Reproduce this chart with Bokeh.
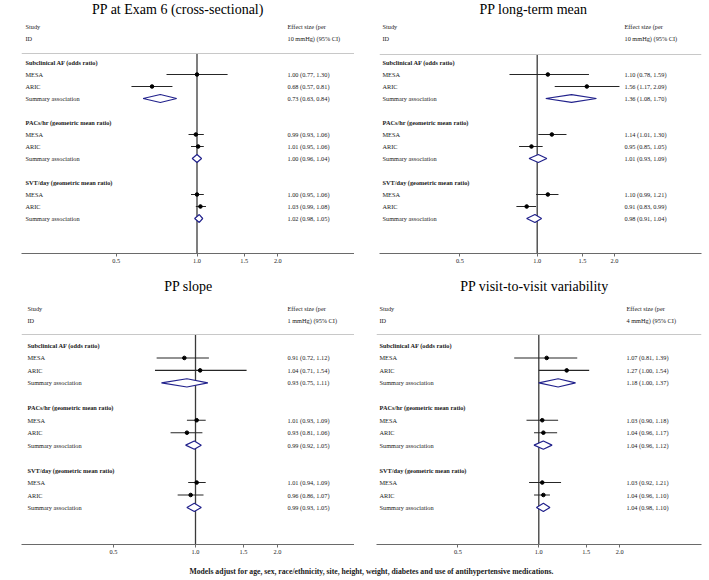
import math
from bokeh.plotting import figure
from bokeh.models import Range1d, FixedTicker, PrintfTickFormatter, Span
from bokeh.layouts import column, row
from bokeh.core.properties import value
from bokeh.embed import file_html
from bokeh.resources import INLINE

# ---------------- data ----------------
groups = ["Subclinical AF (odds ratio)", "PACs/hr (geometric mean ratio)", "SVT/day (geometric mean ratio)"]
studies = ["MESA", "ARIC", "Summary association"]
ticks = [0.5, 1.0, 1.5, 2.0]
titles = ["PP at Exam 6 (cross-sectional)", "PP long-term mean", "PP slope", "PP visit-to-visit variability"]
units = ["10 mmHg) (95% CI)", "10 mmHg) (95% CI)", "1 mmHg) (95% CI)", "4 mmHg) (95% CI)"]
footnote = "Models adjust for age, sex, race/ethnicity, site, height, weight, diabetes and use of antihypertensive medications."

# order: AF (MESA, ARIC, Summary), PACs (...), SVT (...)
exam6_est = [1.00, 0.68, 0.73, 0.99, 1.01, 1.00, 1.00, 1.03, 1.02]
exam6_lo = [0.77, 0.57, 0.63, 0.93, 0.95, 0.96, 0.95, 0.99, 0.98]
exam6_hi = [1.30, 0.81, 0.84, 1.06, 1.06, 1.04, 1.06, 1.08, 1.05]

mean_est = [1.10, 1.56, 1.36, 1.14, 0.95, 1.01, 1.10, 0.91, 0.98]
mean_lo = [0.78, 1.17, 1.08, 1.01, 0.85, 0.93, 0.99, 0.83, 0.91]
mean_hi = [1.59, 2.09, 1.70, 1.30, 1.05, 1.09, 1.21, 0.99, 1.04]

slope_est = [0.91, 1.04, 0.93, 1.01, 0.93, 0.99, 1.01, 0.96, 0.99]
slope_lo = [0.72, 0.71, 0.75, 0.93, 0.81, 0.92, 0.94, 0.86, 0.93]
slope_hi = [1.12, 1.54, 1.11, 1.09, 1.06, 1.05, 1.09, 1.07, 1.05]

vvv_est = [1.07, 1.27, 1.18, 1.03, 1.04, 1.04, 1.03, 1.04, 1.04]
vvv_lo = [0.81, 1.00, 1.00, 0.90, 0.96, 0.96, 0.92, 0.96, 0.98]
vvv_hi = [1.39, 1.54, 1.37, 1.18, 1.17, 1.12, 1.21, 1.10, 1.10]

panel_data = [
    (exam6_est, exam6_lo, exam6_hi),
    (mean_est, mean_lo, mean_hi),
    (slope_est, slope_lo, slope_hi),
    (vvv_est, vvv_lo, vvv_hi),
]

# ---------------- layout (pixels relative to each figure) ----------------
layouts = [
    dict(w=354, h=276, fl=21, fr=0, null=196.5, s=116.6, lx=25, ex=287, tx=177.5, ty=9, a=26.0, b=12.0, fb=253, hl=53),
    dict(w=355, h=276, fl=25, fr=8, null=182.7, s=111.6, lx=28, ex=270, tx=179, ty=9, a=26.0, b=12.0, fb=253, hl=54),
    dict(w=354, h=284, fl=21, fr=0, null=195.0, s=118.3, lx=27, ex=287, tx=188, ty=10, a=31.6, b=12.46, fb=268, hl=58),
    dict(w=355, h=284, fl=22, fr=8, null=184.3, s=116.7, lx=25, ex=272, tx=180, ty=10, a=31.6, b=12.46, fb=268, hl=58),
]

SERIF = value("Liberation Serif")
TXT = "#1a1a1a"


def make_panel(idx):
    L = layouts[idx]
    est, lo, hi = panel_data[idx]

    def px2x(p):
        return math.exp((p - L["null"]) / L["s"])

    def py2r(y):
        return (y - L["a"]) / L["b"]

    x0, x1 = px2x(L["fl"]), px2x(L["w"] - L["fr"])
    ybot, ytop = py2r(L["fb"]), py2r(0)

    p = figure(width=L["w"], height=L["h"], x_axis_type="log",
               x_range=Range1d(x0, x1), y_range=Range1d(ybot, ytop),
               y_axis_location=None, toolbar_location=None, output_backend="svg",
               min_border_left=L["fl"], min_border_right=L["fr"], min_border_top=0,
               min_border_bottom=L["h"] - L["fb"])
    p.outline_line_color = None
    p.xgrid.visible = False
    p.ygrid.visible = False
    p.background_fill_color = "white"
    p.border_fill_color = "white"

    ax = p.xaxis[0]
    ax.ticker = FixedTicker(ticks=ticks)
    ax.formatter = PrintfTickFormatter(format="%.1f")
    ax.axis_line_color = "#6a6a6a"
    ax.axis_line_width = 1
    ax.major_tick_line_color = "#6a6a6a"
    ax.major_tick_in = 0
    ax.major_tick_out = 3
    ax.minor_tick_line_color = None
    ax.major_label_text_font = "Liberation Serif"
    ax.major_label_text_font_size = "6.3px"
    ax.major_label_text_color = TXT
    ax.major_label_standoff = 2

    hrow = py2r(L["hl"])
    p.add_layout(Span(location=hrow, dimension="width", line_color="#c8c8c8", line_width=1))
    p.segment(x0=[1.0], y0=[hrow], x1=[1.0], y1=[ybot], line_color="#3a3a3a", line_width=1.3)

    rows_hdr = [3 + 5 * g for g in range(len(groups))]
    ci_lo, ci_hi, ci_est, ci_rows = [], [], [], []
    dxs, dys = [], []
    lab_rows, lab_text, eff_text = [], [], []
    for g in range(len(groups)):
        for i, s in enumerate(studies):
            k = g * 3 + i
            r = 4 + 5 * g + i
            lab_rows.append(r)
            lab_text.append(s)
            eff_text.append(f"{est[k]:.2f} ({lo[k]:.2f}, {hi[k]:.2f})")
            if i < 2:
                ci_lo.append(lo[k]); ci_hi.append(hi[k]); ci_est.append(est[k]); ci_rows.append(r)
            else:
                dh = 0.33
                dxs.append([lo[k], est[k], hi[k], est[k]])
                dys.append([r, r - dh, r, r + dh])

    p.segment(x0=ci_lo, y0=ci_rows, x1=ci_hi, y1=ci_rows, line_color="#262626", line_width=1.1)
    p.scatter(x=ci_est, y=ci_rows, size=3.6, color="black")
    p.patches(xs=dxs, ys=dys, fill_color="white", line_color="#22228c", line_width=1.2)

    lx = px2x(L["lx"])
    ex = px2x(L["ex"])
    common = dict(text_font=SERIF, text_font_size="6.3px", text_color=TXT, text_baseline="middle")
    p.text(x=[lx] * len(lab_rows), y=lab_rows, text=lab_text, **common)
    p.text(x=[ex] * len(lab_rows), y=lab_rows, text=eff_text, **common)
    p.text(x=[lx] * len(groups), y=rows_hdr, text=groups, text_font_style="bold", **common)
    p.text(x=[lx, lx], y=[0, 1], text=["Study", "ID"], **common)
    p.text(x=[ex, ex], y=[0, 1], text=["Effect size (per", units[idx]], **common)
    p.text(x=[px2x(L["tx"])], y=[py2r(L["ty"])], text=[titles[idx]], text_font=SERIF,
           text_font_size="14px", text_color="black", text_align="center", text_baseline="middle")
    return p


panels = [make_panel(i) for i in range(4)]

foot = figure(width=709, height=18, x_range=Range1d(0, 709), y_range=Range1d(0, 18),
              x_axis_location=None, y_axis_location=None, toolbar_location=None,
              output_backend="svg", min_border=0)
foot.outline_line_color = None
foot.xgrid.visible = False
foot.ygrid.visible = False
foot.text(x=[371], y=[7], text=[footnote], text_font=SERIF, text_font_size="7.7px",
          text_font_style="bold", text_color=TXT, text_align="center", text_baseline="middle")

layout = column(row(panels[0], panels[1]), row(panels[2], panels[3]), foot)

with open("out.html", "w") as f:
    f.write(file_html(layout, INLINE))
